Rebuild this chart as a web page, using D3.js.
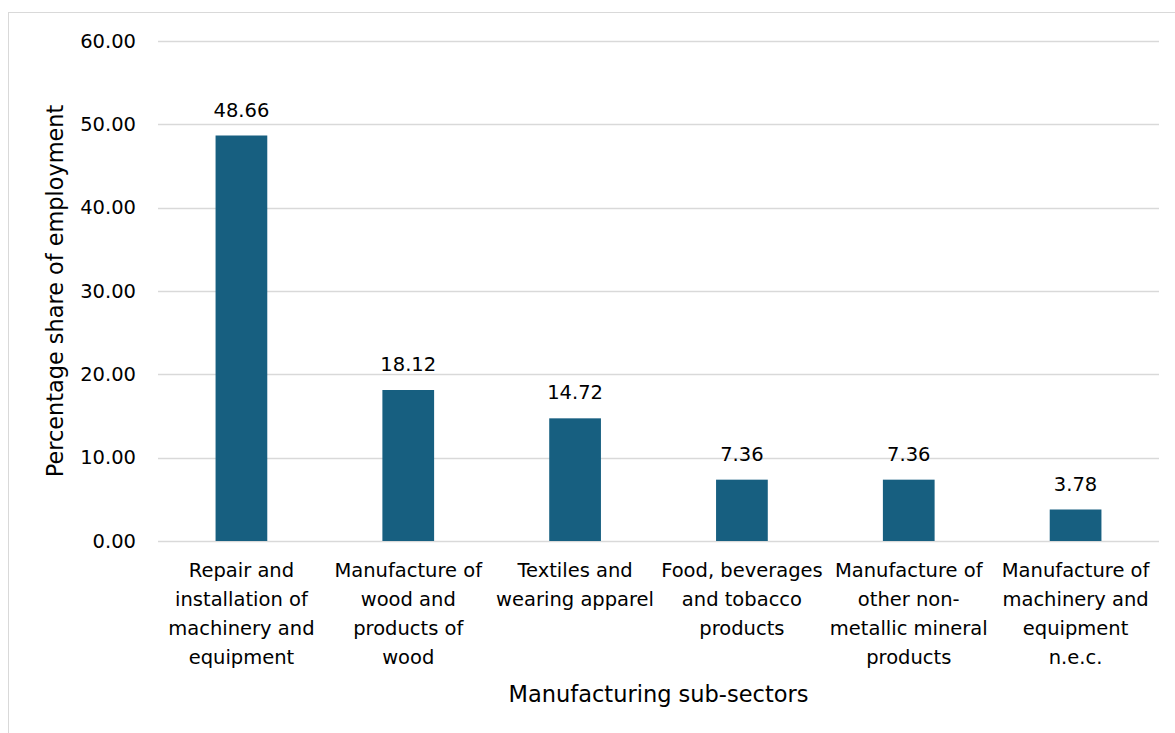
<!DOCTYPE html>
<html>
<head>
<meta charset="utf-8">
<script src="https://cdn.jsdelivr.net/npm/d3@7"></script>
<style>
  html, body { margin: 0; padding: 0; background: #fff; }
  svg { display: block; font-family: "DejaVu Sans", "Open Sans", Arial, sans-serif; }
</style>
</head>
<body>
<svg id="chart" width="1175" height="733"></svg>
<script>
// Share of employment by manufacturing sub-sector (%)
const categories = [
  ["Repair and", "installation of", "machinery and", "equipment"],
  ["Manufacture of", "wood and", "products of", "wood"],
  ["Textiles and", "wearing apparel"],
  ["Food, beverages", "and tobacco", "products"],
  ["Manufacture of", "other non-", "metallic mineral", "products"],
  ["Manufacture of", "machinery and", "equipment", "n.e.c."]
];
const values = [48.66, 18.12, 14.72, 7.36, 7.36, 3.78];
const yTicks = [0, 10, 20, 30, 40, 50, 60];

const svg = d3.select("#chart");
const W = 1175, H = 733;
const margin = { left: 158, right: 16, top: 41, bottom: 192 };
const plotW = W - margin.left - margin.right;
const plotH = H - margin.top - margin.bottom;

// chart frame
svg.append("rect")
  .attr("x", 8.5).attr("y", 12.5)
  .attr("width", W).attr("height", H)
  .attr("fill", "#fff").attr("stroke", "#d9d9d9").attr("stroke-width", 1);

const g = svg.append("g").attr("transform", `translate(${margin.left},${margin.top})`);

const x = d3.scaleBand()
  .domain(d3.range(categories.length))
  .range([0, plotW])
  .paddingInner(0.69)
  .paddingOuter(0.345);

const y = d3.scaleLinear().domain([0, 60]).range([plotH, 0]);

// horizontal gridlines
g.append("g")
  .selectAll("line")
  .data(yTicks)
  .join("line")
  .attr("x1", 0).attr("x2", plotW)
  .attr("y1", d => Math.round(y(d)) + 0.5)
  .attr("y2", d => Math.round(y(d)) + 0.5)
  .attr("stroke", "#d9d9d9").attr("stroke-width", 1.5);

// y axis labels
const yAxis = g.append("g")
  .call(d3.axisLeft(y).tickValues(yTicks).tickFormat(d => d.toFixed(2)).tickSize(0).tickPadding(22))
  .attr("font-family", null)
  .attr("font-size", 19.5);
yAxis.select(".domain").remove();
yAxis.selectAll("text").attr("fill", "#000");

// bars
g.append("g")
  .selectAll("rect")
  .data(values)
  .join("rect")
  .attr("x", (d, i) => x(i))
  .attr("width", x.bandwidth())
  .attr("y", d => y(d))
  .attr("height", d => y(0) - y(d))
  .attr("fill", "#175f80");

// value labels
g.append("g")
  .selectAll("text")
  .data(values)
  .join("text")
  .attr("x", (d, i) => x(i) + x.bandwidth() / 2)
  .attr("y", d => y(d) - 19)
  .attr("text-anchor", "middle")
  .attr("font-size", 19.5)
  .attr("fill", "#000")
  .text(d => d.toFixed(2));

// category labels
const cat = g.append("g")
  .selectAll("text")
  .data(categories)
  .join("text")
  .attr("text-anchor", "middle")
  .attr("font-size", 19.5)
  .attr("fill", "#000")
  .attr("transform", (d, i) => `translate(${x(i) + x.bandwidth() / 2},${plotH + 36})`);
cat.selectAll("tspan")
  .data(d => d)
  .join("tspan")
  .attr("x", 0)
  .attr("y", (d, j) => j * 29)
  .text(d => d);

// axis titles
svg.append("text")
  .attr("x", margin.left + plotW / 2)
  .attr("y", 702)
  .attr("text-anchor", "middle")
  .attr("font-size", 22.5)
  .attr("fill", "#000")
  .text("Manufacturing sub-sectors");

svg.append("text")
  .attr("transform", `translate(63,${margin.top + plotH / 2}) rotate(-90)`)
  .attr("text-anchor", "middle")
  .attr("font-size", 22.4)
  .attr("fill", "#000")
  .text("Percentage share of employment");
</script>
</body>
</html>
